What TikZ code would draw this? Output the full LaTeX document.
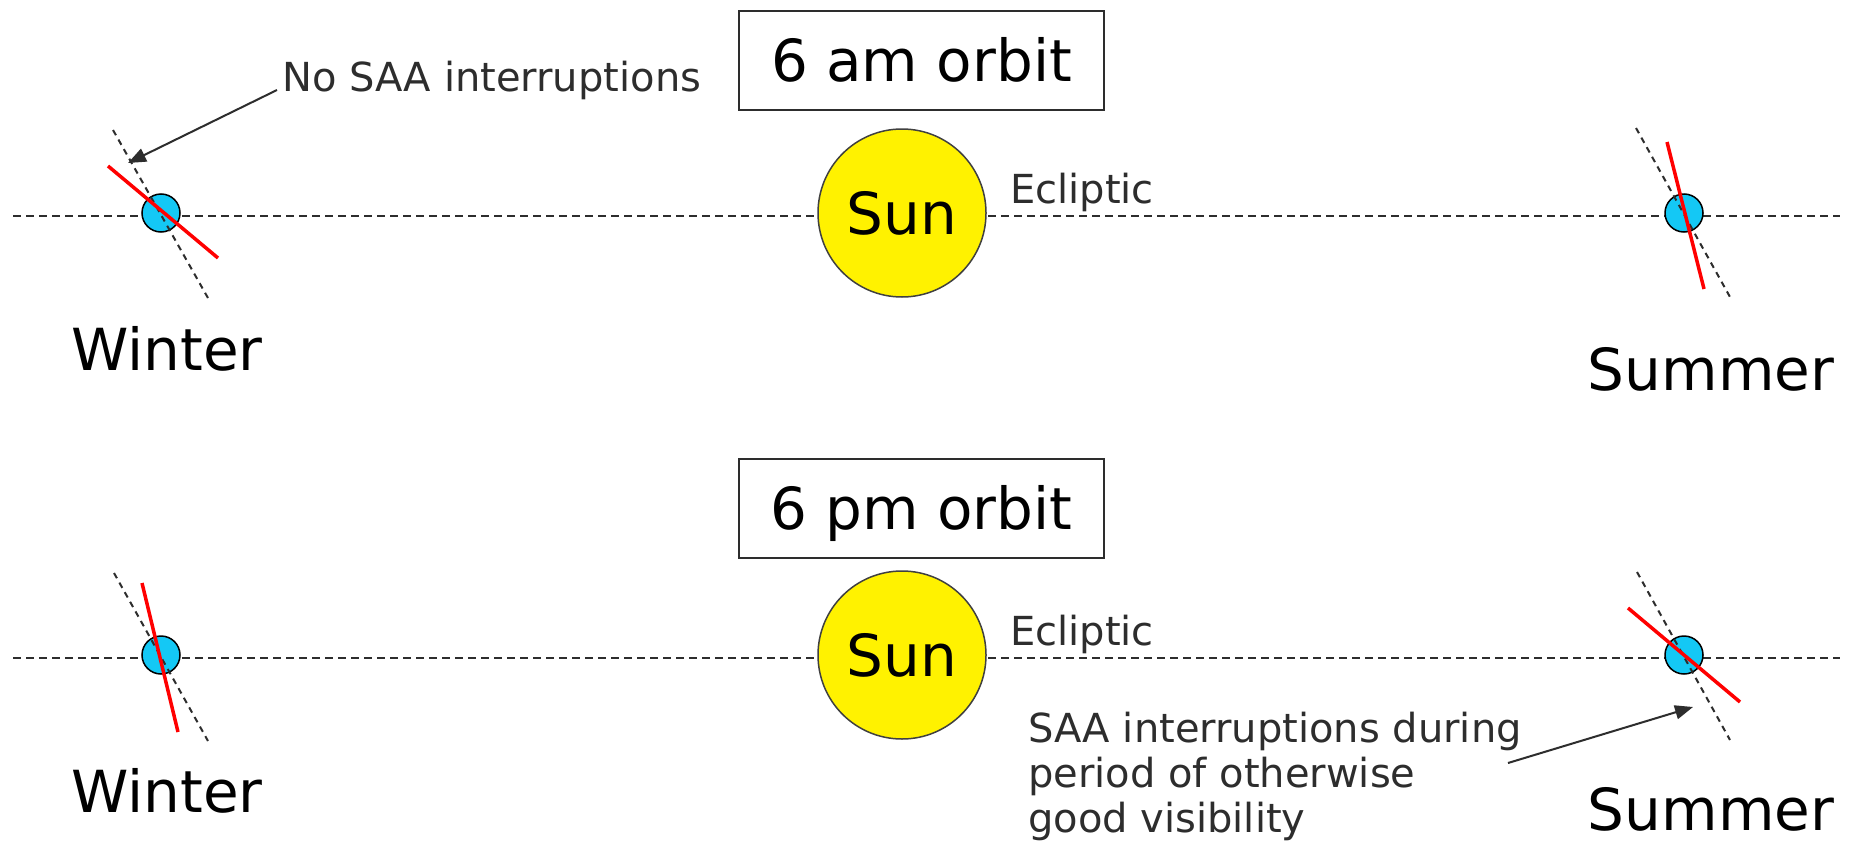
\documentclass[tikz,border=0pt]{standalone}
\usepackage{fontspec}
\setmainfont{DejaVu Sans}
\usetikzlibrary{arrows.meta}
\definecolor{earthblue}{RGB}{20,200,245}
\definecolor{ink}{RGB}{45,45,45}
\tikzset{
  bigtext/.style={font=\fontsize{58}{64}\selectfont, inner sep=0pt},
  smalltext/.style={font=\fontsize{40}{45}\selectfont, text=ink, inner sep=0pt},
  titlebox/.style={draw=ink, line width=2pt, minimum width=365pt, minimum height=99pt,
    inner sep=0pt, text height=44pt, text depth=2pt, font=\fontsize{58}{64}\selectfont},
  sunball/.style={circle, draw=black!75, line width=1.5pt, fill=yellow, minimum size=168pt,
    inner sep=0pt, text height=42pt, text depth=0pt, font=\fontsize{58}{64}\selectfont},
  earth/.style={circle, draw=black, line width=1.5pt, fill=earthblue, minimum size=38pt, inner sep=0pt},
  eclipticline/.style={dash pattern=on 8pt off 5pt, line width=2pt, draw=ink},
  axisline/.style={dash pattern=on 6pt off 5pt, line width=2pt, draw=ink},
  spin/.style={draw=red, line width=3.5pt},
  pointer/.style={-{Triangle[length=18pt,width=14pt]}, line width=2pt, draw=ink, fill=ink}
}
\begin{document}
\begin{tikzpicture}[x=1pt, y=-1pt]
  \fill[white] (0,0) rectangle (1852,843);
  \useasboundingbox (0,0) rectangle (1852,843);

  % ---------- 6 am orbit ----------
  \coordinate (eclAL) at (13,216);
  \coordinate (eclAR) at (1840,216);
  \draw[eclipticline] (eclAL) -- (eclAR);

  \node[titlebox] (amtitle) at (921.5,60.5) {6 am orbit};
  \node[sunball] (sunA) at (902,213) {Sun};
  \node[smalltext, anchor=base west] (eclA) at (1010,203) {Ecliptic};

  % winter position
  \node[earth] (wA) at (161,213) {};
  \draw[axisline] ([shift={(-48,-83)}]wA.center) -- ([shift={(47,85)}]wA.center);
  \draw[spin] ([shift={(-53,-47)}]wA.center) -- ([shift={(57,45)}]wA.center);
  \node[bigtext, anchor=base] (winA) at (167,370) {Winter};

  % summer position
  \node[earth] (sA) at (1684,213) {};
  \draw[axisline] ([shift={(-48,-85)}]sA.center) -- ([shift={(46,84)}]sA.center);
  \draw[spin] ([shift={(-17,-71)}]sA.center) -- ([shift={(20,76)}]sA.center);
  \node[bigtext, anchor=base] (sumA) at (1711,390) {Summer};

  % annotation
  \node[smalltext, anchor=base west] (nosaa) at (282,92) {No SAA interruptions};
  \coordinate (tipA) at (128,163);
  \draw[pointer] ([shift={(-5,-2)}]nosaa.base west) -- (tipA);

  % ---------- 6 pm orbit ----------
  \coordinate (eclBL) at (13,658);
  \coordinate (eclBR) at (1840,658);
  \draw[eclipticline] (eclBL) -- (eclBR);

  \node[titlebox] (pmtitle) at (921.5,508) {6 pm orbit};
  \node[sunball] (sunB) at (902,655) {Sun};
  \node[smalltext, anchor=base west] (eclB) at (1010,645) {Ecliptic};

  % winter position
  \node[earth] (wB) at (161,655) {};
  \draw[axisline] ([shift={(-47,-82)}]wB.center) -- ([shift={(47,86)}]wB.center);
  \draw[spin] ([shift={(-19,-72)}]wB.center) -- ([shift={(17,77)}]wB.center);
  \node[bigtext, anchor=base] (winB) at (167,812) {Winter};

  % summer position
  \node[earth] (sB) at (1684,655) {};
  \draw[axisline] ([shift={(-47,-83)}]sB.center) -- ([shift={(46,85)}]sB.center);
  \draw[spin] ([shift={(-56,-47)}]sB.center) -- ([shift={(56,47)}]sB.center);
  \node[bigtext, anchor=base] (sumB) at (1711,830) {Summer};

  % annotation
  \node[smalltext, anchor=base west] (saa1) at (1028,742) {SAA interruptions during};
  \node[smalltext, anchor=base west] (saa2) at (1028,787) {period of otherwise};
  \node[smalltext, anchor=base west] (saa3) at (1028,832) {good visibility};
  \coordinate (tailB) at (1508,763);
  \coordinate (tipB) at (1693,707);
  \draw[pointer] (tailB) -- (tipB);
\end{tikzpicture}
\end{document}
